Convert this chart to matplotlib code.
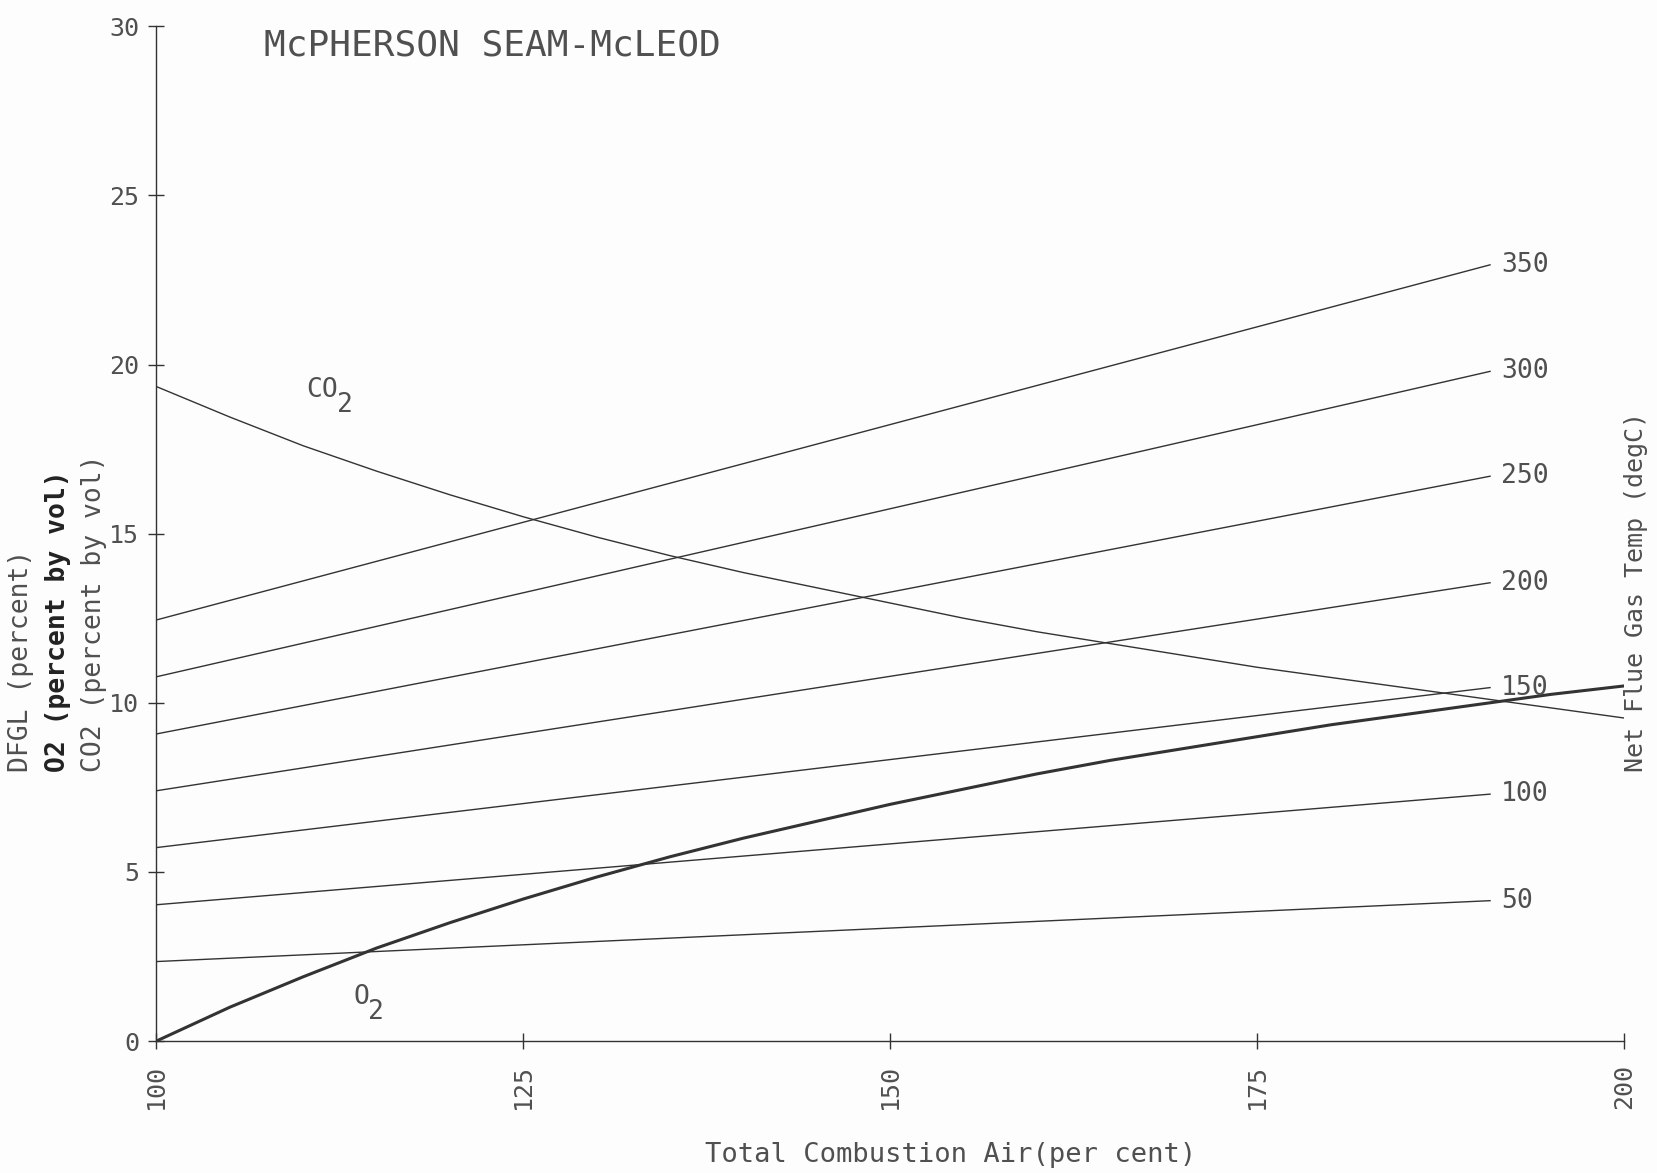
import matplotlib
matplotlib.use("Agg")
import matplotlib.pyplot as plt

# -----------------------------
# data
# -----------------------------
AIR = [100, 105, 110, 115, 120, 125, 130, 135, 140, 145, 150,
       155, 160, 165, 170, 175, 180, 185, 190, 195, 200]
CO2 = [19.35, 18.45, 17.6, 16.85, 16.15, 15.5, 14.9, 14.35, 13.85, 13.4, 12.95,
       12.5, 12.1, 11.75, 11.4, 11.05, 10.75, 10.45, 10.15, 9.85, 9.55]
O2 = [0.0, 1.0, 1.9, 2.75, 3.5, 4.2, 4.85, 5.45, 6.0, 6.5, 7.0,
      7.45, 7.9, 8.3, 8.65, 9.0, 9.35, 9.65, 9.95, 10.25, 10.5]

TEMP_AIR = [100, 190.85]
TEMPS = ["50", "100", "150", "200", "250", "300", "350"]
DFGL_START = [2.35, 4.03, 5.72, 7.40, 9.08, 10.77, 12.45]
DFGL_END = [4.15, 7.30, 10.45, 13.55, 16.70, 19.80, 22.95]

X_TICKS = [100, 125, 150, 175, 200]
Y_TICKS = [0, 5, 10, 15, 20, 25, 30]

BG = "#fdfdfd"
INK = "#333333"
TXT = "#505050"
FONT = "DejaVu Sans Mono"

plt.rcParams["font.family"] = FONT

fig = plt.figure(figsize=(16.57, 11.73), dpi=100, facecolor=BG)
ax = fig.add_axes([0.0944, 0.1125, 0.8859, 0.865])
ax.set_facecolor(BG)

for start, end in zip(DFGL_START, DFGL_END):
    ax.plot(TEMP_AIR, [start, end], color=INK, lw=1.0)

ax.plot(AIR, CO2, color=INK, lw=1.0)
ax.plot(AIR, O2, color=INK, lw=2.2, solid_joinstyle="round")

ax.set_xlim(100, 200)
ax.set_ylim(0, 30)

for s in ("top", "right"):
    ax.spines[s].set_visible(False)
for s in ("left", "bottom"):
    ax.spines[s].set_color(INK)
    ax.spines[s].set_linewidth(1.0)

ax.set_xticks(X_TICKS)
ax.set_yticks(Y_TICKS)
ax.set_xticklabels([str(v) for v in X_TICKS], rotation=90)
ax.tick_params(axis="both", direction="inout", length=11, width=1.0,
               color=INK, labelcolor=TXT, labelsize=18)
ax.tick_params(axis="x", pad=11)
ax.tick_params(axis="y", pad=7)

# labels on the right ends of the temperature lines
for t, end in zip(TEMPS, DFGL_END):
    ax.text(191.6, end, t, fontsize=19, color=TXT, ha="left", va="center")

# curve labels
ax.text(110.2, 19.25, "CO", fontsize=19, color=TXT, ha="left", va="center")
ax.text(112.3, 18.8, "2", fontsize=19, color=TXT, ha="left", va="center")
ax.text(113.4, 1.3, "O", fontsize=19, color=TXT, ha="left", va="center")
ax.text(114.4, 0.85, "2", fontsize=19, color=TXT, ha="left", va="center")

# title
fig.text(264 / 1657, 1 - 46 / 1173, "McPHERSON SEAM-McLEOD", fontsize=26,
         color=TXT, ha="left", va="center")

# stacked y labels
fig.text(21 / 1657, 1 - 772 / 1173, "DFGL (percent)", rotation=90,
         fontsize=19, color=TXT, ha="center", va="bottom")
fig.text(58 / 1657, 1 - 772 / 1173, "O2 (percent by vol)", rotation=90,
         fontsize=19, color="#222222", fontweight="bold", ha="center", va="bottom")
fig.text(94 / 1657, 1 - 772 / 1173, "CO2 (percent by vol)", rotation=90,
         fontsize=19, color=TXT, ha="center", va="bottom")

# right label
fig.text(1636 / 1657, 1 - 592 / 1173, "Net Flue Gas Temp (degC)", rotation=90,
         fontsize=18, color=TXT, ha="center", va="center")

# x label
fig.text(951 / 1657, 1 - 1155 / 1173, "Total Combustion Air(per cent)",
         fontsize=19.5, color=TXT, ha="center", va="center")

fig.savefig("out.png", dpi=100, facecolor=BG)
